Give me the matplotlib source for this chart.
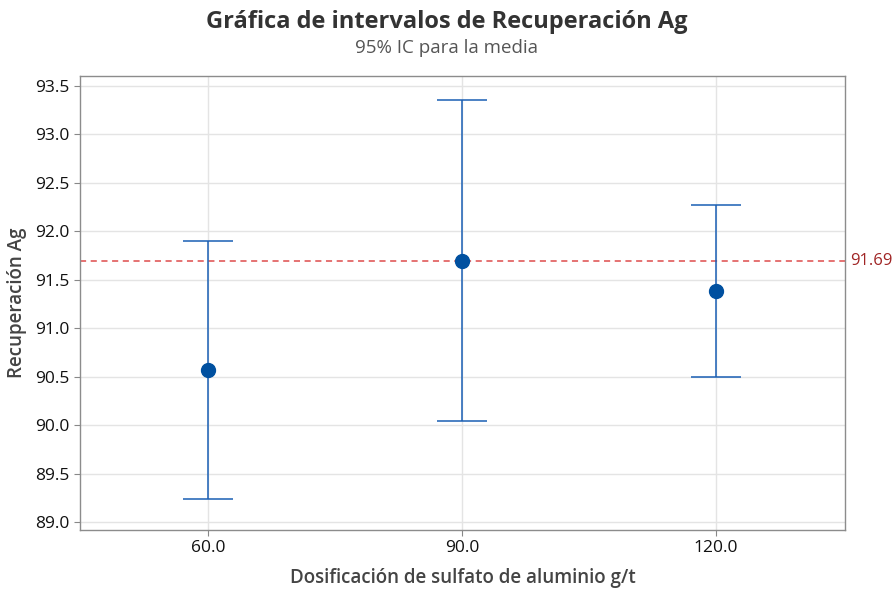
import matplotlib.pyplot as plt
import numpy as np

plt.rcParams['font.family'] = ['Open Sans', 'DejaVu Sans']

doses = ['60.0', '90.0', '120.0']
means = [90.57, 91.69, 91.38]
lower = [89.24, 90.04, 90.50]
upper = [91.90, 93.35, 92.27]
ref_value = 91.69


def main():
    fig = plt.figure(figsize=(8.93, 5.89), dpi=100)
    ax = fig.add_axes([80 / 893, 1 - 530 / 589, 765 / 893, 454 / 589])

    x = np.arange(len(doses))
    m = np.array(means)
    yerr = [m - np.array(lower), np.array(upper) - m]

    ax.errorbar(x, m, yerr=yerr, fmt='none', ecolor='#1a5fb4', elinewidth=1.1,
                capsize=18, capthick=1.1, zorder=3)
    ax.plot(x, m, 'o', color='#0050a0', markersize=10, zorder=4)

    ax.axhline(ref_value, color='#de4b4b', linestyle='--', linewidth=1.1,
               dashes=(4, 3), zorder=2)
    ax.text(1.007, ref_value, f'{ref_value:.2f}', transform=ax.get_yaxis_transform(),
            color='#a02525', fontsize=12, va='center', ha='left')

    ax.set_xlim(-0.505, 2.51)
    ax.set_ylim(88.92, 93.60)
    ax.set_xticks(x)
    ax.set_xticklabels(doses)
    yt = np.arange(89.0, 93.51, 0.5)
    ax.set_yticks(yt)
    ax.set_yticklabels([f'{v:.1f}' for v in yt])
    ax.tick_params(labelsize=12.5, labelcolor='#111111', length=4, width=0.8,
                   color='#888888')
    for lab in ax.get_xticklabels() + ax.get_yticklabels():
        lab.set_fontweight('medium')

    ax.grid(True, color='#e4e4e4', linewidth=1)
    ax.set_axisbelow(True)
    for s in ax.spines.values():
        s.set_color('#8c8c8c')
        s.set_linewidth(1)

    ax.set_xlabel('Dosificación de sulfato de aluminio g/t', fontsize=13.5,
                  fontweight='semibold', color='#444444', labelpad=8)
    ax.set_ylabel('Recuperación Ag', fontsize=13.5, fontweight='semibold',
                  color='#444444', labelpad=6)

    fig.text(0.5, 1 - 22 / 589, 'Gráfica de intervalos de Recuperación Ag',
             ha='center', va='center', fontsize=17, fontweight='bold', color='#333333')
    fig.text(0.5, 1 - 48 / 589, '95% IC para la media', ha='center', va='center',
             fontsize=13.5, color='#555555')

    fig.savefig('out.png', dpi=100, facecolor='white')


if __name__ == '__main__':
    main()
